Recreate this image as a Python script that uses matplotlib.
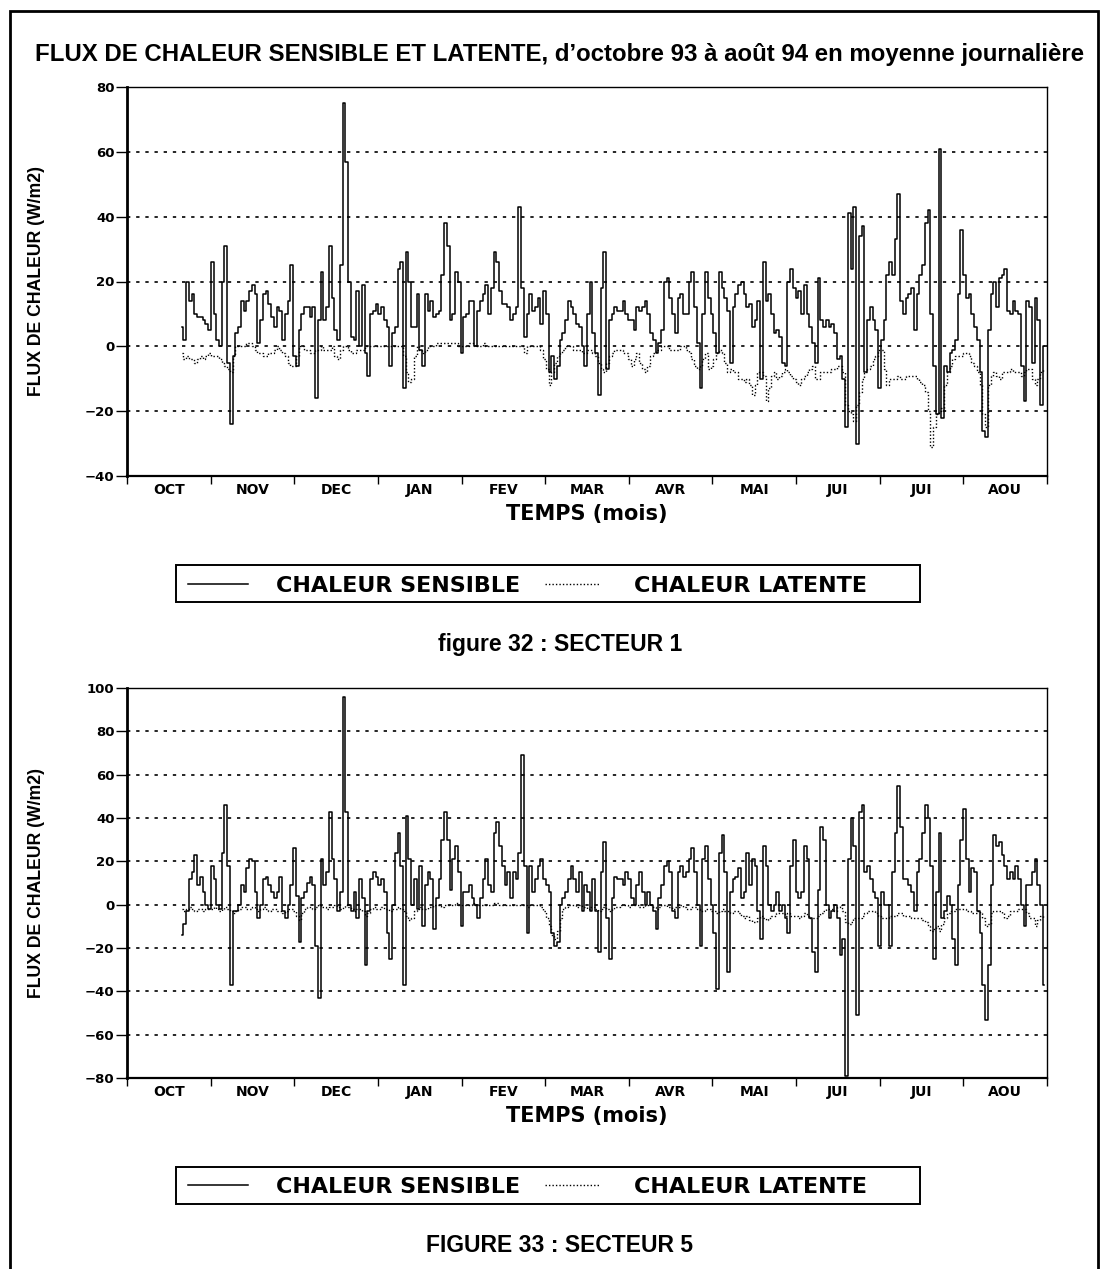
import matplotlib
matplotlib.use("Agg")
import matplotlib.pyplot as plt
import numpy as np
from matplotlib.patches import Rectangle
from matplotlib.lines import Line2D

plt.rcParams["font.family"] = ["Liberation Sans", "DejaVu Sans"]

months = ["OCT", "NOV", "DEC", "JAN", "FEV", "MAR", "AVR", "MAI", "JUI", "JUI", "AOU"]
n_days = 335          # 1 oct 93 -> 31 aout 94
first_day = 20        # series start on 21 oct 93

# secteur 1, daily means (W/m2), one line per month
s1_sensible = (
    [6, 2, 20, 14, 16, 10, 9, 9, 8, 7, 5]
    + [26, 10, 2, 0, 20, 31, -5, -24, -3, 4, 6, 14, 11, 14, 17, 19, 16, 1, 8, 16, 17, 13, 9, 6, 12, 11, 2, 10, 14, 25]
    + [-3, -6, 5, 10, 12, 12, 9, 12, -16, 8, 23, 8, 12, 31, 15, 5, 2, 25, 75, 57, 20, 3, 2, 17, 0, 19, -2, -9, 10, 11, 13]
    + [10, 12, 8, 6, -6, 4, 6, 24, 26, -13, 29, 20, 6, 6, 16, -1, -6, 16, 11, 14, 9, 10, 11, 22, 38, 31, 8, 10, 23, 20, -2]
    + [9, 10, 14, 14, 0, 11, 14, 16, 19, 10, 18, 29, 26, 17, 13, 13, 12, 8, 10, 12, 43, 18, 3, 10, 16, 11, 12, 15]
    + [7, 17, 10, -8, -3, -10, -6, 2, 4, 8, 14, 12, 10, 7, 6, 0, -6, 10, 20, 4, -2, -15, 18, 29, -7, 8, 10, 12, 11, 11, 14]
    + [10, 8, 8, 5, 12, 11, 12, 14, 10, 4, 2, -2, 1, 5, 20, 21, 15, 10, 4, 15, 16, 10, 10, 20, 23, 12, 1, -13, 10, 23]
    + [15, 10, 4, -2, 23, 18, 15, 11, -5, 12, 16, 19, 20, 16, 12, 13, 6, 8, 14, -10, 26, 14, 16, 10, 4, 5, 3, -5, -6, 20, 24]
    + [18, 15, 17, 10, 19, 10, 6, 1, -5, 21, 8, 6, 8, 6, 7, 4, -4, -3, -10, -25, 41, 24, 43, -30, 34, 37, -8, 8, 12, 8]
    + [5, -13, 2, 8, 22, 26, 22, 33, 47, 14, 10, 15, 16, 18, 5, 16, 22, 25, 38, 42, 10, -6, -21, 61, -22, -6, -8, -2, -1, 2, 16]
    + [36, 22, 15, 16, 10, 6, 2, -8, -26, -28, 5, 16, 20, 12, 21, 22, 24, 11, 10, 14, 11, 10, -6, -17, 14, 12, -5, 15, 8, -18, 0]
)
s1_latente = (
    [-2, -4, -3, -4, -4, -5, -4, -3, -4, -3, -2]
    + [-3, -3, -3, -4, -5, -6, -7, -8, -3, 0, 0, 0, 0, 1, 1, 0, -1, -2, -2, -3, -3, -2, -2, -1, 0, -1, -2, -3, -5, -6]
    + [-6, -3, 0, 0, -1, -1, -2, -2, -1, -1, 0, -1, -1, -1, 0, -3, -4, -1, 0, 0, -1, -2, -2, -1, -1, -1, 0, 0, 0, 0, 0]
    + [0, 0, 0, 0, 0, 0, 0, 0, 0, -3, -8, -11, -10, -3, 0, -1, -2, -1, 0, 0, 0, 1, 1, 1, 1, 1, 1, 1, 1, 0, 0]
    + [0, 0, 1, 1, 0, 0, 0, 1, 0, 0, 0, 0, 0, 0, 0, 0, 0, 0, 0, 0, 0, 0, -2, 0, 0, 0, 0, 0]
    + [-1, -4, -7, -12, -8, -5, -3, -2, -1, 0, 0, 0, -1, -1, -1, -2, -2, -1, -1, -2, -3, -5, -7, -8, -5, -3, -2, -1, -1, -1, -2]
    + [-2, -4, -6, -4, -2, -5, -7, -8, -6, -3, -2, -1, -1, 0, 0, 0, -1, -1, -1, -1, 0, 0, -1, -2, -4, -6, -7, -6, -4, -2]
    + [-7, -6, -4, -2, -1, -2, -5, -8, -7, -8, -8, -10, -10, -11, -10, -12, -15, -12, -8, -8, -9, -17, -13, -9, -8, -10, -9, -8, -7, -8, -9]
    + [-10, -11, -12, -10, -9, -8, -7, -6, -10, -10, -8, -8, -8, -8, -7, -7, -6, -6, -8, -18, -20, -21, -23, -18, -14, -10, -8, -7, -6, -4]
    + [-3, -1, -1, -7, -12, -10, -10, -10, -9, -10, -10, -9, -9, -9, -9, -10, -11, -12, -14, -20, -31, -25, -21, -20, -19, -12, -8, -6, -4, -3, -3]
    + [-3, -2, -2, -3, -5, -6, -8, -12, -21, -25, -12, -9, -8, -9, -10, -8, -8, -8, -7, -8, -8, -8, -9, -8, -7, -7, -10, -12, -10, -8, -7]
)

# secteur 5
s5_sensible = (
    [-14, -9, -3, 12, 15, 23, 9, 13, 6, 0, -2]
    + [18, 12, 0, -2, 24, 46, 18, -37, -3, -3, 0, 9, 6, 17, 21, 20, 6, -6, 0, 12, 13, 9, 6, 3, 6, 13, -3, -6, 0, 9]
    + [26, 4, -17, 3, 6, 10, 13, 9, -19, -43, 21, 9, 15, 43, 21, 12, -3, 6, 96, 43, 0, -3, 6, -6, 12, 3, -28, -3, 12, 15, 13]
    + [9, 12, 6, -13, -25, 0, 24, 33, 18, -37, 41, 21, 0, 12, -2, 18, -10, 9, 15, 12, -11, 3, 12, 30, 43, 30, 7, 21, 27, 15, -10]
    + [6, 6, 9, 3, 0, -6, 3, 12, 21, 9, 6, 33, 38, 27, 18, 9, 15, 3, 15, 12, 24, 69, 18, -13, 18, 6, 12, 18]
    + [21, 12, 9, 6, -13, -19, -17, 0, 3, 6, 12, 18, 12, 6, 15, -3, 9, 6, -3, 12, -3, -22, 15, 29, -6, -25, 3, 13, 12, 12, 9]
    + [15, 12, 3, 0, 9, 15, 6, 0, 6, 0, -3, -11, 3, 9, 18, 20, 15, -3, -6, 15, 18, 13, 15, 21, 26, 15, 0, -19, 21, 27]
    + [12, 0, -13, -39, 24, 32, 15, -31, 6, 12, 13, 17, 3, 6, 24, 9, 21, 18, -3, -16, 27, 18, 0, -3, 0, 6, -3, 0, -6, -13, 18]
    + [30, 6, 3, 6, 27, 21, -6, -22, -31, 7, 36, 30, 0, -6, -3, 0, -6, -23, -16, -79, 21, 40, 27, -51, 43, 46, 15, 18, 12, 6]
    + [3, -19, 6, 0, 0, -19, 15, 33, 55, 36, 12, 12, 9, 6, -3, 15, 21, 33, 46, 40, 18, -25, 6, 33, -6, -3, 4, 0, -16, -28, 9]
    + [30, 44, 21, 6, 17, 15, -3, -13, -37, -53, -28, 9, 32, 27, 29, 23, 18, 12, 15, 12, 18, 12, 0, -10, 9, 9, 15, 21, 9, 0, -37]
)
s5_latente = (
    [-2, -3, -2, -1, -2, -3, -2, -2, -3, -2, -2]
    + [-2, -1, -2, -3, -2, -1, -2, -3, -4, -3, -2, -1, -1, -2, -2, -1, -2, -3, -2, -1, -2, -3, -2, -2, -3, -3, -4, -3, -2, -2]
    + [-3, -5, -7, -4, -2, -1, -1, -2, -1, 0, -1, -1, -2, -1, -1, 0, -1, -2, -1, 0, -1, -2, -3, -2, -2, -3, -5, -4, -2, -1, -2]
    + [-2, -1, -2, -2, -3, -2, -2, -1, -2, -3, -5, -7, -6, -3, -2, -1, -2, -2, -1, -1, 0, 0, 0, -1, 0, 0, 0, 0, 1, 0, 0]
    + [0, 0, 0, 1, 0, 0, 0, 0, 0, 0, 0, 1, 1, 0, 0, 0, 0, 0, 0, 0, 0, 0, 0, -1, 0, 0, 0, 0]
    + [-1, -3, -6, -10, -14, -16, -12, -6, -2, -1, 0, 0, 0, -1, 0, -1, -1, -2, -1, -1, -2, -3, -2, -1, -2, -3, -2, -1, -1, 0, 0]
    + [0, -1, 0, 0, 0, -1, -1, 0, 0, 0, -1, -2, -1, 0, 0, -1, -1, -2, -1, -1, 0, -1, -2, -2, -1, -1, -2, -3, -3, -2]
    + [-2, -3, -3, -4, -3, -2, -3, -3, -4, -3, -3, -4, -5, -6, -5, -7, -8, -8, -6, -5, -6, -7, -6, -5, -5, -4, -4, -4, -5, -4, -5]
    + [-5, -5, -6, -5, -4, -5, -6, -6, -6, -5, -4, -3, -2, -2, -2, -3, -1, 0, -3, -8, -9, -8, -6, -6, -6, -5, -4, -3, -3, -3]
    + [-4, -5, -6, -6, -6, -5, -5, -5, -4, -4, -5, -5, -5, -6, -6, -6, -6, -7, -8, -10, -12, -11, -10, -12, -9, -6, -4, -3, -3, -2, -2]
    + [-2, -2, -3, -3, -4, -4, -3, -4, -6, -10, -9, -4, -3, -3, -3, -4, -6, -5, -3, -3, -3, -2, -2, -2, -4, -6, -6, -10, -7, -5, -6]
)

W, H = 1104, 1269
WIDE = ["DejaVu Sans"]
SENS_STYLE = dict(color="black", lw=1.1)
LAT_STYLE = dict(color="black", lw=1.0, ls=(0, (1, 1.5)))


def draw_panel(ax, sensible, latente, ymin, ymax):
    days = np.arange(first_day, first_day + len(sensible))
    for v in range(ymin + 20, ymax, 20):
        ax.axhline(v, color="black", lw=1.2, ls=(0, (2, 3.5)), zorder=0)
    ax.plot(days, sensible, drawstyle="steps-mid", **SENS_STYLE)
    ax.plot(days, latente, drawstyle="steps-mid", **LAT_STYLE)
    ax.set_xlim(0, n_days)
    ax.set_ylim(ymin, ymax)
    ax.set_yticks(np.arange(ymin, ymax + 1, 20))
    edges = np.linspace(0, n_days, len(months) + 1)
    ax.set_xticks(edges)
    ax.set_xticklabels([])
    ax.set_xticks((edges[:-1] + edges[1:]) / 2, minor=True)
    ax.set_xticklabels(months, minor=True, fontsize=10, fontweight="bold", family=WIDE)
    ax.tick_params(axis="x", which="major", direction="out", length=6, width=1)
    ax.tick_params(axis="x", which="minor", length=0, pad=5)
    ax.tick_params(axis="y", direction="out", length=8, width=1, pad=1)
    for lab in ax.get_yticklabels():
        lab.set_fontweight("bold")
        lab.set_fontsize(9.5)
        lab.set_family(WIDE)
    ax.spines["left"].set_linewidth(2)
    ax.spines["bottom"].set_linewidth(1.6)
    ax.spines["top"].set_linewidth(1)
    ax.spines["right"].set_linewidth(1)
    ax.set_ylabel("FLUX DE CHALEUR (W/m2)", fontsize=12.7, fontweight="bold")
    ax.yaxis.set_label_coords(-0.089, 0.5)
    ax.set_xlabel("TEMPS (mois)", fontsize=15, fontweight="bold", family=WIDE)
    ax.xaxis.set_label_coords(0.5, -0.072)


def draw_legend(fig, cy):
    y = 1 - cy / H
    fig.add_artist(Rectangle((176 / W, 1 - (cy + 18.5) / H), 744 / W, 37 / H,
                             transform=fig.transFigure, fill=False,
                             edgecolor="black", lw=1.4))
    fig.add_artist(Line2D([188 / W, 248 / W], [y, y], transform=fig.transFigure, **SENS_STYLE))
    fig.text(398 / W, y, "CHALEUR SENSIBLE", ha="center", va="center_baseline",
             fontsize=16, fontweight="bold", family=WIDE)
    fig.add_artist(Line2D([545 / W, 600 / W], [y, y], transform=fig.transFigure, **LAT_STYLE))
    fig.text(750 / W, y, "CHALEUR LATENTE", ha="center", va="center_baseline",
             fontsize=16, fontweight="bold", family=WIDE)


fig = plt.figure(figsize=(W / 100, H / 100), dpi=100)

ax1 = fig.add_axes([127 / W, 1 - 476 / H, 920 / W, 389 / H])
draw_panel(ax1, s1_sensible, s1_latente, -40, 80)
ax2 = fig.add_axes([127 / W, 1 - 1078 / H, 920 / W, 390 / H])
draw_panel(ax2, s5_sensible, s5_latente, -80, 100)

fig.text(560 / W, 1 - 55 / H,
         "FLUX DE CHALEUR SENSIBLE ET LATENTE, d\u2019octobre 93 \u00e0 ao\u00fbt 94 en moyenne journali\u00e8re",
         ha="center", va="center", fontsize=17.3, fontweight="bold")

draw_legend(fig, 583.5)
draw_legend(fig, 1185)

fig.text(560 / W, 1 - 645 / H, "figure 32 : SECTEUR 1", ha="center", va="center",
         fontsize=16.5, fontweight="bold")
fig.text(560 / W, 1 - 1245 / H, "FIGURE 33 : SECTEUR 5", ha="center", va="center",
         fontsize=16.5, fontweight="bold")

# page frame
fig.patches.append(Rectangle((10 / W, -0.01), 1088 / W, 1.01 - 11 / H,
                             transform=fig.transFigure, fill=False,
                             edgecolor="black", lw=2))

fig.savefig("out.png", dpi=100)
